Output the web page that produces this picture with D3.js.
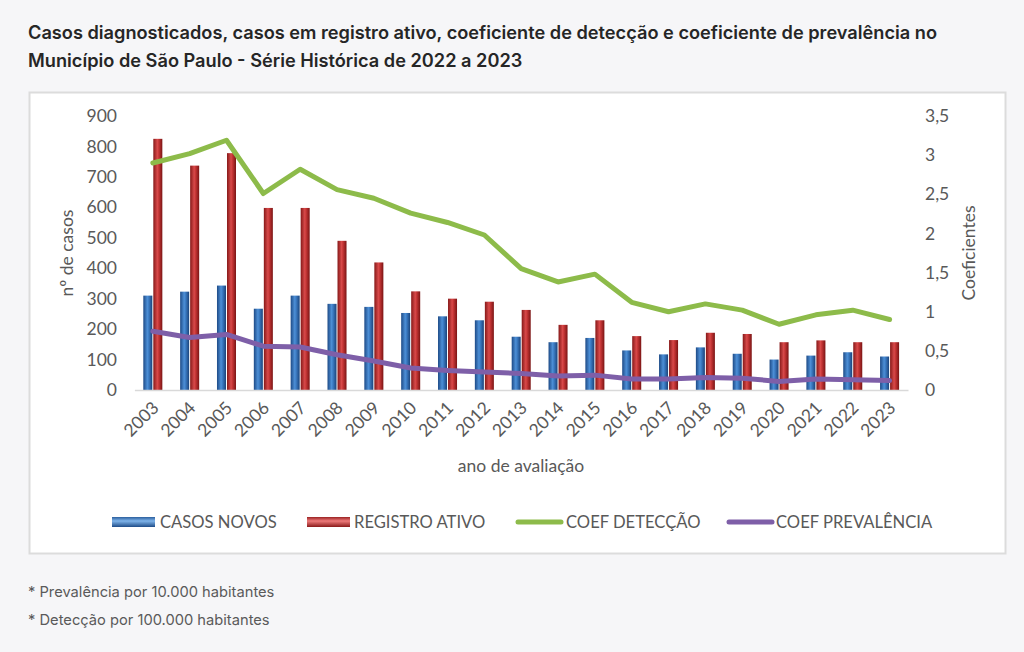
<!DOCTYPE html>
<html>
<head>
<meta charset="utf-8">
<script src="https://cdn.jsdelivr.net/npm/d3@7"></script>
<style>
  html, body { margin: 0; padding: 0; background: #f6f6f8; }
  svg { display: block; }
</style>
</head>
<body>
<svg id="chart" width="1024" height="652"></svg>
<script>
// ---- data ----
const years = ["2003","2004","2005","2006","2007","2008","2009","2010","2011","2012","2013","2014","2015","2016","2017","2018","2019","2020","2021","2022","2023"];
const casosNovos = [310, 323, 343, 267, 310, 283, 273, 253, 242, 229, 175, 157, 171, 130, 117, 140, 119, 100, 113, 124, 110];
const registroAtivo = [825, 737, 778, 598, 598, 490, 419, 324, 300, 290, 263, 214, 229, 177, 164, 188, 184, 157, 163, 157, 157];
const coefDeteccao = [2.90, 3.02, 3.19, 2.51, 2.82, 2.56, 2.45, 2.26, 2.14, 1.98, 1.55, 1.38, 1.48, 1.12, 1.00, 1.10, 1.02, 0.84, 0.96, 1.02, 0.90];
const coefPrevalencia = [0.75, 0.67, 0.71, 0.56, 0.55, 0.45, 0.37, 0.28, 0.25, 0.23, 0.21, 0.18, 0.19, 0.14, 0.14, 0.16, 0.15, 0.11, 0.14, 0.13, 0.12];
const leftTicks = [0, 100, 200, 300, 400, 500, 600, 700, 800, 900];
const rightTicks = [0, 0.5, 1, 1.5, 2, 2.5, 3, 3.5];
const seriesNames = ["CASOS NOVOS", "REGISTRO ATIVO", "COEF DETECÇÃO", "COEF PREVALÊNCIA"];
const titleLines = [
  "Casos diagnosticados, casos em registro ativo, coeficiente de detecção e coeficiente de prevalência no",
  "Município de São Paulo - Série Histórica de 2022 a 2023"
];
const footnotes = ["* Prevalência por 10.000 habitantes", "* Detecção por 100.000 habitantes"];

// ---- setup ----
const svg = d3.select("#chart");
const chartFont = "Lato, 'Open Sans', sans-serif";
const textGrey = "#595959";

const defs = svg.append("defs");
function hGrad(id, stops) {
  const g = defs.append("linearGradient").attr("id", id).attr("x1", "0%").attr("x2", "100%").attr("y1", "0%").attr("y2", "0%");
  stops.forEach(([o, c]) => g.append("stop").attr("offset", o).attr("stop-color", c));
}
function vGrad(id, stops) {
  const g = defs.append("linearGradient").attr("id", id).attr("x1", "0%").attr("x2", "0%").attr("y1", "0%").attr("y2", "100%");
  stops.forEach(([o, c]) => g.append("stop").attr("offset", o).attr("stop-color", c));
}
hGrad("gBlue", [["0%", "#1d4a86"], ["45%", "#4d8fd6"], ["60%", "#3c7cc4"], ["100%", "#1b437a"]]);
hGrad("gRed", [["0%", "#861818"], ["45%", "#d84a4a"], ["60%", "#c63636"], ["100%", "#7a1414"]]);
vGrad("gBlueL", [["0%", "#2b5f9e"], ["40%", "#7fb4ea"], ["100%", "#1e4c88"]]);
vGrad("gRedL", [["0%", "#9a2222"], ["40%", "#ee7b7b"], ["100%", "#8a1a1a"]]);

// title
svg.append("g").selectAll("text").data(titleLines).join("text")
  .attr("x", 28).attr("y", (d, i) => 39 + i * 28)
  .attr("font-family", "Inter, 'Noto Sans', sans-serif")
  .attr("font-weight", 600).attr("font-size", 18.2)
  .attr("fill", "#262626").text(d => d);

// chart box
svg.append("rect").attr("x", 29.5).attr("y", 92.5).attr("width", 976).attr("height", 461)
  .attr("fill", "#ffffff").attr("stroke", "#dcdcdc").attr("stroke-width", 2);

// footnotes
svg.append("g").selectAll("text").data(footnotes).join("text")
  .attr("x", 28).attr("y", (d, i) => 597 + i * 28)
  .attr("font-family", "Inter, 'Noto Sans', sans-serif")
  .attr("font-size", 14.7).attr("fill", "#5a5a5a").text(d => d);

// scales
const x = d3.scaleBand().domain(years).range([134.4, 908]).padding(0);
const xs = d3.scaleBand().domain(["novos", "ativo"]).range([0, x.bandwidth()]).paddingInner(0.1).paddingOuter(0.89);
const yL = d3.scaleLinear().domain([0, 900]).range([390, 116]);
const yR = d3.scaleLinear().domain([0, 3.5]).range([390, 116]);

// left axis
const axL = svg.append("g").attr("transform", "translate(134,0)")
  .call(d3.axisLeft(yL).tickValues(leftTicks).tickSize(0).tickPadding(17));
axL.select(".domain").remove();
axL.selectAll("text").attr("font-family", chartFont).attr("font-size", 17.5).attr("fill", textGrey);

// right axis
const axR = svg.append("g").attr("transform", "translate(908,0)")
  .call(d3.axisRight(yR).tickValues(rightTicks).tickSize(0).tickPadding(17)
    .tickFormat(d => String(d).replace(".", ",")));
axR.select(".domain").remove();
axR.selectAll("text").attr("font-family", chartFont).attr("font-size", 17.5).attr("fill", textGrey);

// bars
const groups = svg.append("g").selectAll("g").data(years).join("g")
  .attr("transform", d => `translate(${x(d)},0)`);
groups.append("rect")
  .attr("x", xs("novos")).attr("width", xs.bandwidth())
  .attr("y", (d, i) => yL(casosNovos[i])).attr("height", (d, i) => yL(0) - yL(casosNovos[i]))
  .attr("fill", "url(#gBlue)");
groups.append("rect")
  .attr("x", xs("ativo")).attr("width", xs.bandwidth())
  .attr("y", (d, i) => yL(registroAtivo[i])).attr("height", (d, i) => yL(0) - yL(registroAtivo[i]))
  .attr("fill", "url(#gRed)");

// x axis
const axB = svg.append("g").attr("transform", "translate(0,390)")
  .call(d3.axisBottom(x).tickSize(0).tickPadding(0));
axB.select(".domain").attr("stroke", "#d9d9d9").attr("stroke-width", 1.5);
axB.selectAll("text")
  .attr("font-family", chartFont).attr("font-size", 17.5).attr("fill", textGrey)
  .attr("text-anchor", "end").attr("dy", null).attr("y", 0)
  .attr("transform", "translate(7,19) rotate(-45)");

// lines
const cx = d => x(d) + x.bandwidth() / 2;
const lineGen = vals => d3.line().x((d, i) => cx(d)).y((d, i) => yR(vals[i]))(years);
svg.append("path").attr("d", lineGen(coefDeteccao)).attr("fill", "none")
  .attr("stroke", "#8dbb4a").attr("stroke-width", 5).attr("stroke-linejoin", "round").attr("stroke-linecap", "round");
svg.append("path").attr("d", lineGen(coefPrevalencia)).attr("fill", "none")
  .attr("stroke", "#7e5fa8").attr("stroke-width", 5).attr("stroke-linejoin", "round").attr("stroke-linecap", "round");

// axis titles
svg.append("text").attr("transform", "translate(73,253) rotate(-90)")
  .attr("text-anchor", "middle").attr("font-family", chartFont).attr("font-size", 17.5).attr("fill", textGrey)
  .text("nº de casos");
svg.append("text").attr("transform", "translate(975,253) rotate(-90)")
  .attr("text-anchor", "middle").attr("font-family", chartFont).attr("font-size", 17.5).attr("fill", textGrey)
  .text("Coeficientes");
svg.append("text").attr("x", 521).attr("y", 472)
  .attr("text-anchor", "middle").attr("font-family", chartFont).attr("font-size", 17.5).attr("fill", textGrey)
  .text("ano de avaliação");

// legend
const legendItems = [
  { name: seriesNames[0], type: "bar", fill: "url(#gBlueL)", sx: 112, tx: 160 },
  { name: seriesNames[1], type: "bar", fill: "url(#gRedL)", sx: 307, tx: 354 },
  { name: seriesNames[2], type: "line", fill: "#8dbb4a", sx: 516, tx: 566 },
  { name: seriesNames[3], type: "line", fill: "#7e5fa8", sx: 727, tx: 776 }
];
const leg = svg.append("g").selectAll("g").data(legendItems).join("g");
leg.filter(d => d.type === "bar").append("rect")
  .attr("x", d => d.sx).attr("y", 517).attr("width", 43).attr("height", 10)
  .attr("fill", d => d.fill);
leg.filter(d => d.type === "line").append("line")
  .attr("x1", d => d.sx + 2).attr("x2", d => d.sx + 45).attr("y1", 522).attr("y2", 522)
  .attr("stroke", d => d.fill).attr("stroke-width", 5).attr("stroke-linecap", "round");
leg.append("text").attr("x", d => d.tx).attr("y", 528)
  .attr("font-family", chartFont).attr("font-size", 16.6).attr("fill", textGrey)
  .text(d => d.name);
</script>
</body>
</html>
